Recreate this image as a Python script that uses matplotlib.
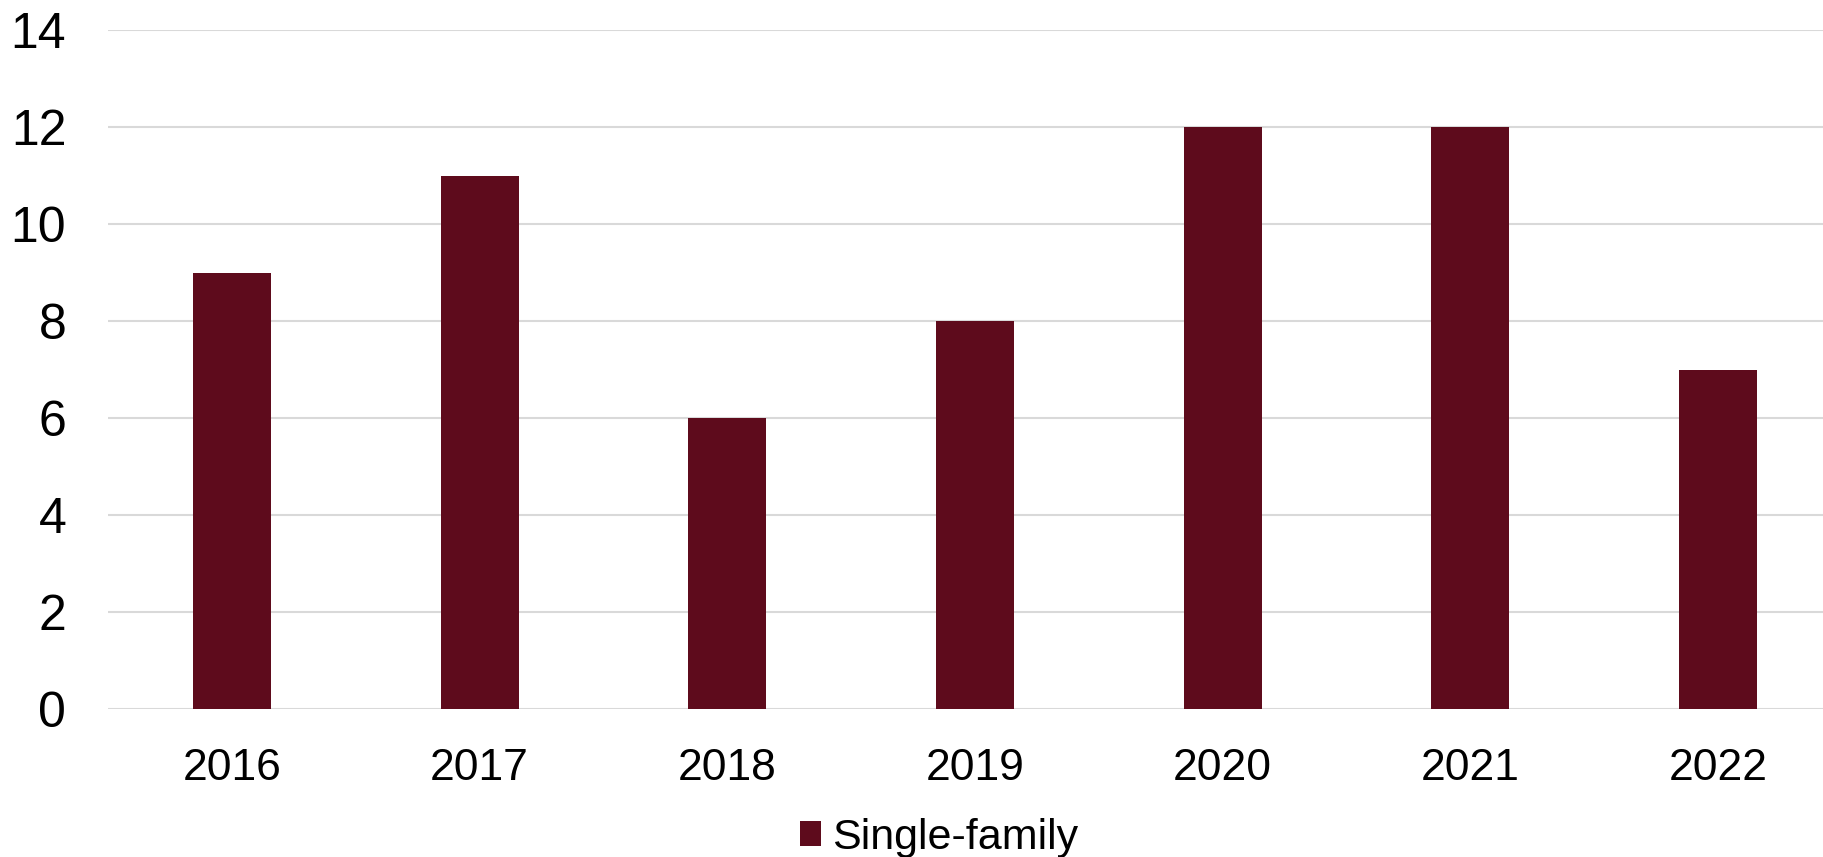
import matplotlib
matplotlib.use("Agg")
import matplotlib.pyplot as plt
from matplotlib.patches import Patch

YEARS  = ["2016", "2017", "2018", "2019", "2020", "2021", "2022"]
VALUES = [9, 11, 6, 8, 12, 12, 7]
SERIES = "Single-family"

BAR_COLOR  = "#5E0B1C"
GRID_COLOR = "#D9D9D9"

plt.rcParams["font.family"] = ["Liberation Sans", "DejaVu Sans"]

W, H = 1823, 857
fig = plt.figure(figsize=(W / 100, H / 100), dpi=100)

left, right, top, bottom = 108, 1823, 30, 709
ax = fig.add_axes([left / W, 1 - bottom / H, (right - left) / W, (bottom - top) / H])

xs = list(range(len(YEARS)))
ax.bar(xs, VALUES, width=0.315, color=BAR_COLOR, zorder=3)

ax.set_ylim(0, 14)
ax.set_yticks(range(0, 15, 2))
# category slot ~248px, the last one runs past the right edge
ax.set_xlim(-0.5, 6.5 - 19 / 248)
ax.set_xticks(xs)
ax.set_xticklabels(YEARS)

ax.grid(axis="y", color=GRID_COLOR, linewidth=1.5, zorder=0)
for s in ax.spines.values():
    s.set_visible(False)
ax.tick_params(axis="both", length=0, colors="black")
ax.tick_params(axis="y", labelsize=36, pad=30)
ax.tick_params(axis="x", labelsize=32, pad=28)

handles = [Patch(facecolor=BAR_COLOR, label=SERIES)]
fig.legend(handles=handles, loc="center", bbox_to_anchor=(939 / W, 1 - 838 / H),
           frameon=False, fontsize=31, handlelength=0.5, handleheight=0.5,
           handletextpad=0.25)

fig.savefig("out.png", dpi=100)
plt.close(fig)
